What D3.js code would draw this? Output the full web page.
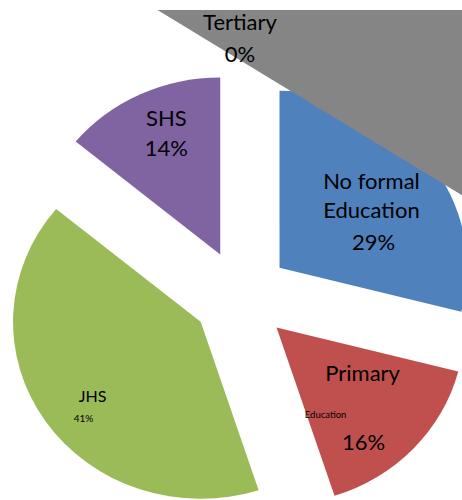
<!DOCTYPE html>
<html>
<head>
<meta charset="utf-8">
<script src="https://cdn.jsdelivr.net/npm/d3@7"></script>
<style>
  body { margin: 0; background: #fff; }
  svg { display: block; }
  text { font-family: Lato, "Open Sans", sans-serif; fill: #000; }
</style>
</head>
<body>
<div id="chart"></div>
<script>
// education level shares (%), clockwise from 12 o'clock
const categories = ["No formal Education", "Primary", "JHS", "SHS", "Tertiary"];
const values = [29, 16, 41, 14, 0];
const percentLabels = ["29%", "16%", "41%", "14%", "0%"];

const colors = ["#4f81bd", "#c0504d", "#9bbb59", "#8064a2", "#858585"];

// label lines, nudged from each slice centroid
const labelLayout = [
    [{ t: "No formal", dx: 3, dy: -14, s: 22 }, { t: "Education", dx: 3, dy: 15, s: 22 }, { t: "%", dx: 5, dy: 47, s: 22 }],
    [{ t: "Primary", dx: 4, dy: -19, s: 22 }, { t: "Education", dx: -33, dy: 18, s: 9.5 }, { t: "%", dx: 5, dy: 50, s: 22 }],
    [{ t: "JHS", dx: -15, dy: 20, s: 16 }, { t: "%", dx: -24, dy: 40, s: 10 }],
    [{ t: "SHS", dx: -6, dy: -32, s: 22 }, { t: "%", dx: -6, dy: -2, s: 22 }],
    [{ t: "Tertiary", dx: -1, dy: -114, s: 22 }, { t: "%", dx: -1, dy: -82, s: 22 }]
];

const width = 462, height = 500;
const cx = 241, cy = 296, radius = 177, stretchX = 1.06, explode = 46;

const svg = d3.select("#chart").append("svg")
    .attr("width", width)
    .attr("height", height);

svg.append("clipPath").attr("id", "clip")
    .append("rect")
    .attr("x", 0).attr("y", 10)
    .attr("width", width).attr("height", height - 10);

const root = svg.append("g").attr("clip-path", "url(#clip)");

const pie = d3.pie().sort(null).value(d => d);
const arcs = pie(values);
const arc = d3.arc().innerRadius(0).outerRadius(radius);

const mid = d => (d.startAngle + d.endAngle) / 2;
const apex = d => [cx + stretchX * explode * Math.sin(mid(d)), cy - explode * Math.cos(mid(d))];

const pieG = root.append("g")
    .attr("transform", `translate(${cx},${cy}) scale(${stretchX},1)`);

pieG.selectAll("path")
    .data(arcs.filter(d => d.value > 0))
    .join("path")
    .attr("d", arc)
    .attr("fill", d => colors[d.index])
    .attr("transform", d => `translate(${explode * Math.sin(mid(d))},${-explode * Math.cos(mid(d))})`);

// the zero "Tertiary" slice is rendered as a large grey wedge in the original
const ghostArc = d3.arc()
    .innerRadius(0)
    .outerRadius(900)
    .startAngle(-58.7 * Math.PI / 180)
    .endAngle(Math.PI / 2);

root.append("path")
    .attr("d", ghostArc())
    .attr("fill", colors[4])
    .attr("transform", `translate(${cx + 229},${cy - 96})`);

// labels
arcs.forEach((d, i) => {
    const [ax, ay] = apex(d);
    const r = radius * 0.6;
    const px = ax + stretchX * r * Math.sin(mid(d));
    const py = ay - r * Math.cos(mid(d));
    labelLayout[i].forEach(line => {
        svg.append("text")
            .attr("x", px + line.dx)
            .attr("y", py + line.dy)
            .attr("text-anchor", "middle")
            .style("font-size", line.s + "px")
            .text(line.t === "%" ? percentLabels[i] : line.t);
    });
});
</script>
</body>
</html>
